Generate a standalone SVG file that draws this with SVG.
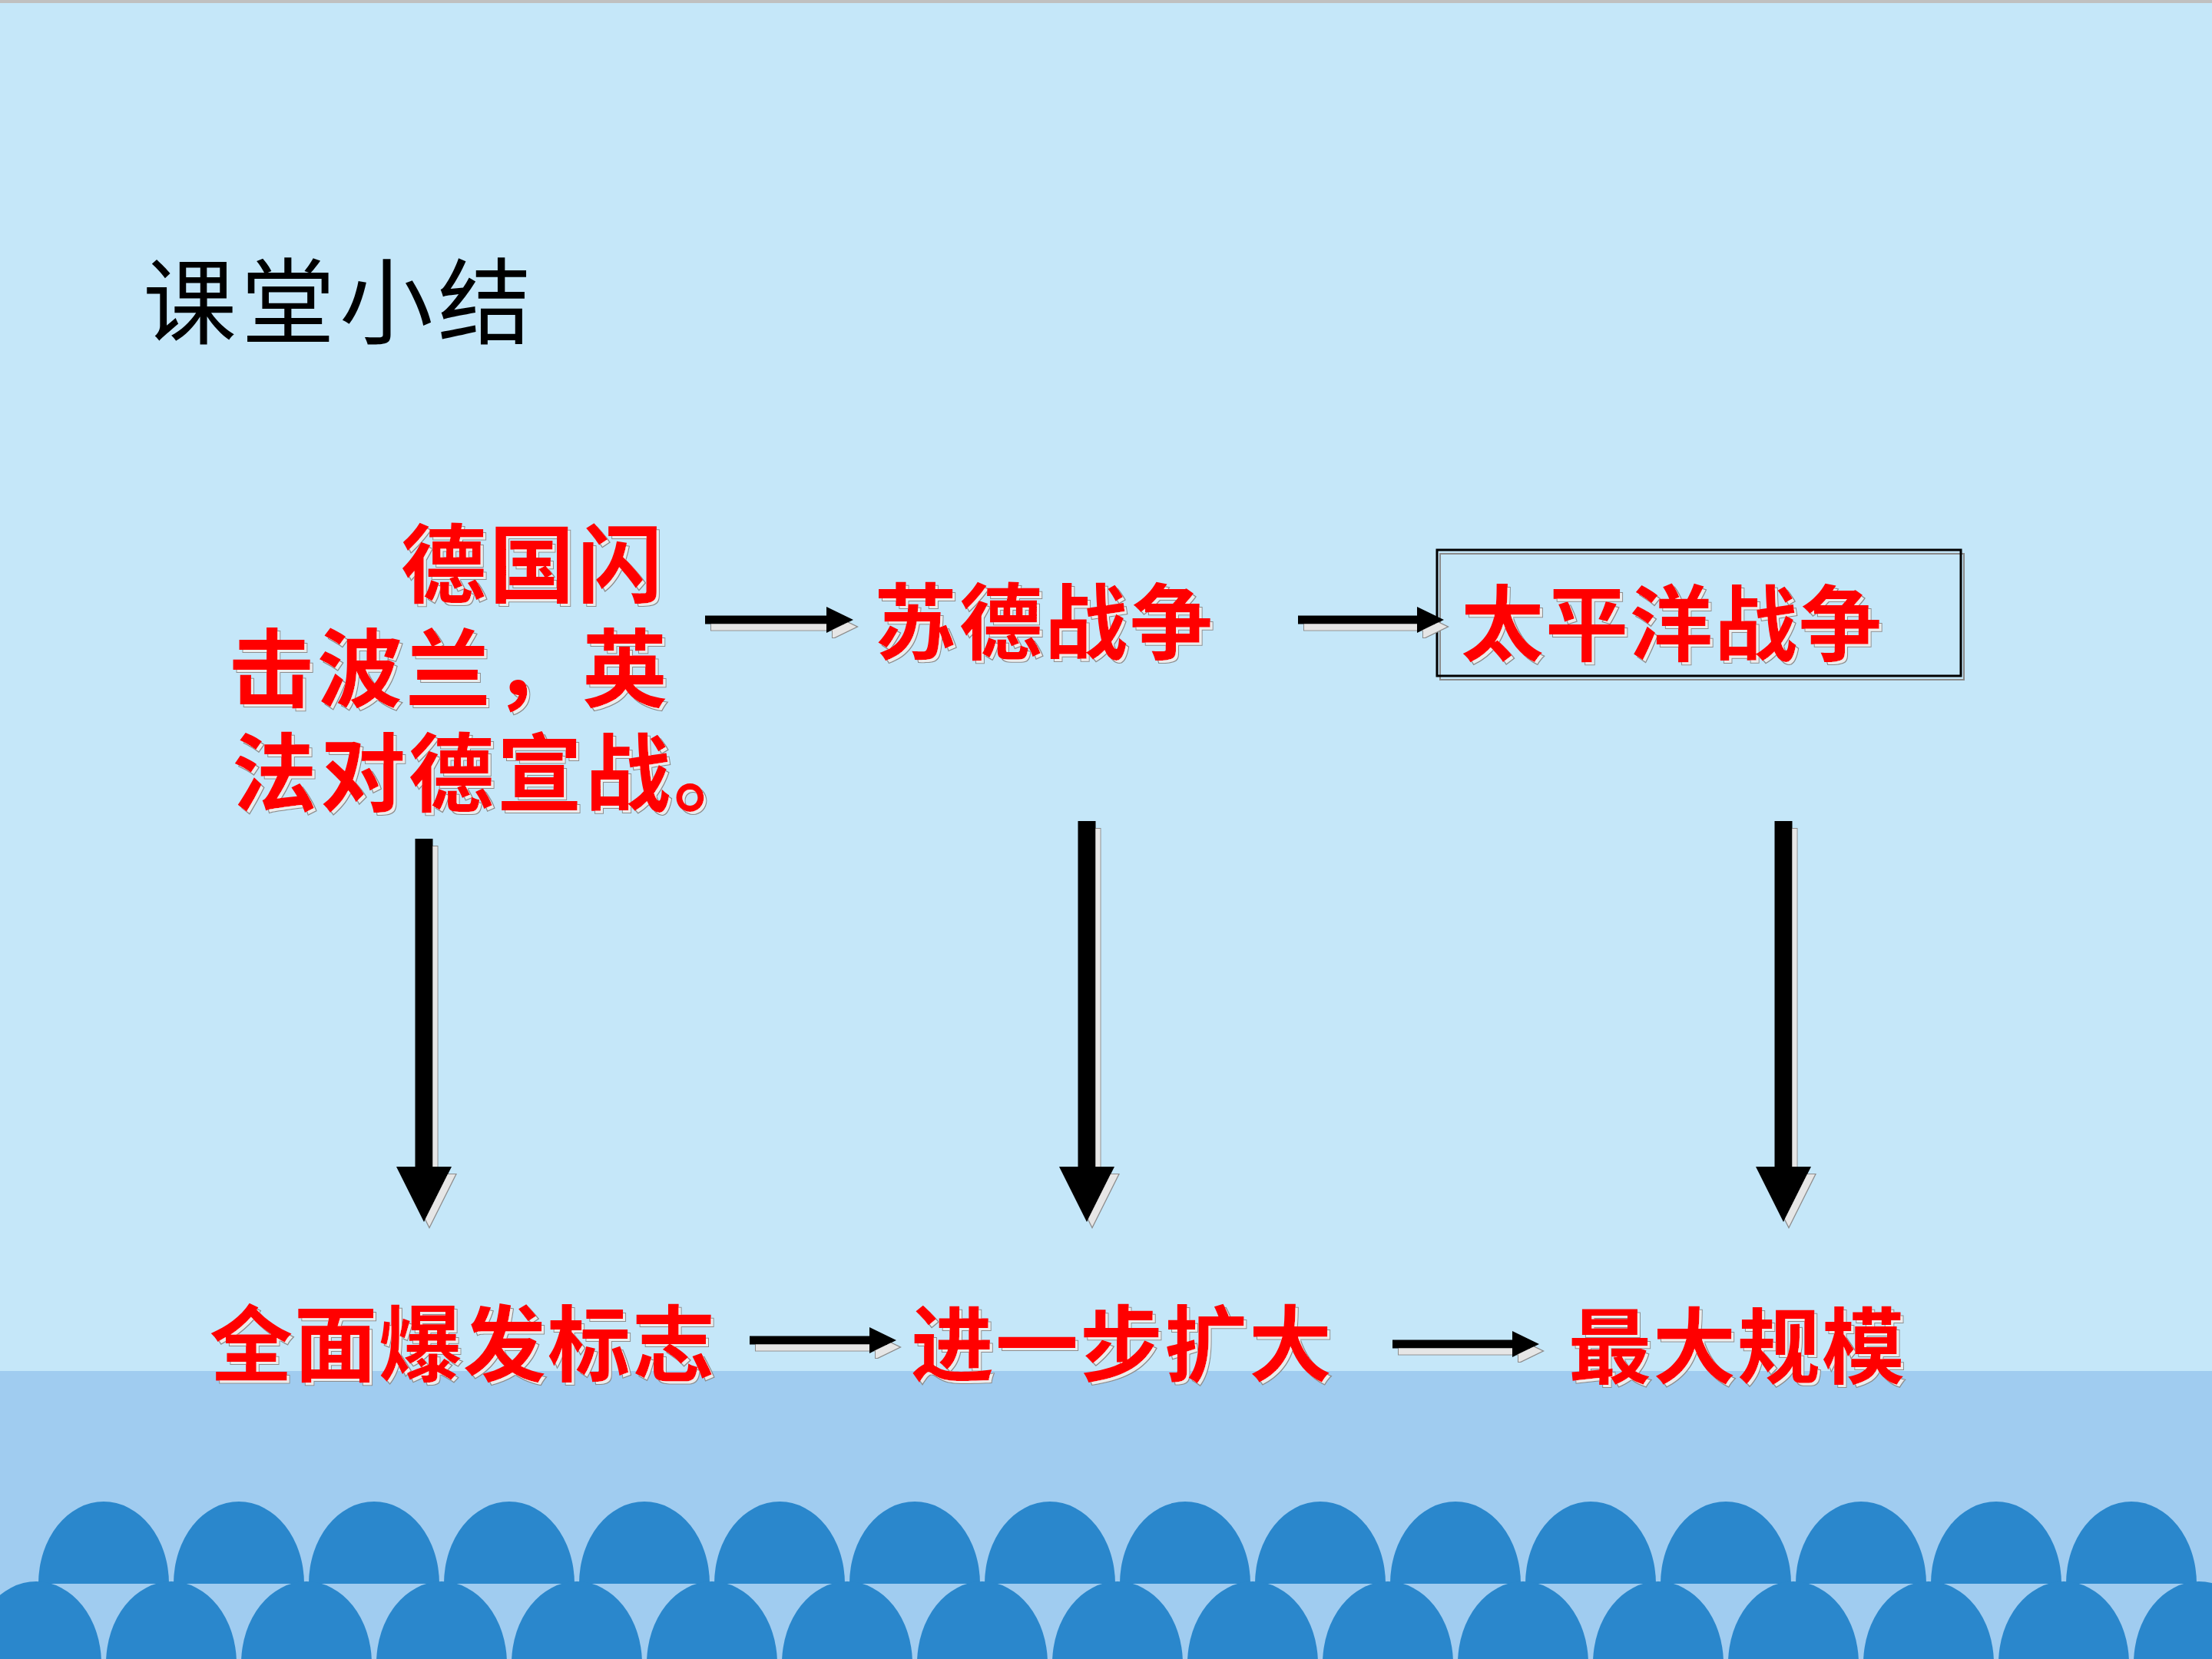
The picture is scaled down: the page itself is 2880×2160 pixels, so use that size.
<svg xmlns="http://www.w3.org/2000/svg" xmlns:xlink="http://www.w3.org/1999/xlink" width="2880" height="2160" viewBox="0 0 2880 2160">
<style>
.red{font-family:"Noto Sans CJK SC","Noto Sans CJK TC",sans-serif;font-weight:700;font-size:108px;fill:#FF0000;letter-spacing:2px;filter:url(#ts)}
.big{font-size:111px;letter-spacing:4px}
.title{font-family:"Noto Sans CJK SC","Noto Sans CJK TC",sans-serif;font-weight:400;font-size:122px;fill:#000000;letter-spacing:6px}
.arrow{fill:#000000;filter:url(#as)}
.dome{fill:#2A87CC}
</style>
<defs>
<filter id="ts" x="-5%" y="-10%" width="115%" height="130%">
<feOffset in="SourceAlpha" dx="4" dy="4" result="o"/>
<feFlood flood-color="#8c8c8c"/>
<feComposite in2="o" operator="in" result="dark"/>
<feMorphology in="o" operator="erode" radius="1.2" result="oe"/>
<feFlood flood-color="#ececec"/>
<feComposite in2="oe" operator="in" result="light"/>
<feMerge><feMergeNode in="dark"/><feMergeNode in="light"/><feMergeNode in="SourceGraphic"/></feMerge>
</filter>
<filter id="as" x="-20%" y="-20%" width="140%" height="140%">
<feOffset in="SourceAlpha" dx="7" dy="9" result="o"/>
<feFlood flood-color="#8c8c8c"/>
<feComposite in2="o" operator="in" result="dark"/>
<feMorphology in="o" operator="erode" radius="1.2" result="oe"/>
<feFlood flood-color="#e6e6e6"/>
<feComposite in2="oe" operator="in" result="light"/>
<feMerge><feMergeNode in="dark"/><feMergeNode in="light"/><feMergeNode in="SourceGraphic"/></feMerge>
</filter>
<path id="dome" d="M-85,0 A85,107 0 0 1 85,0 Z"/>
</defs>

<g id="background">
<rect x="0" y="0" width="2880" height="2160" fill="#C5E7F9"/>
<rect x="0" y="0" width="2880" height="4" fill="#C0C0C0"/>
<rect x="0" y="1785" width="2880" height="375" fill="#A0CCF0"/>
<g class="dome">
<use xlink:href="#dome" x="135" y="2062"/><use xlink:href="#dome" x="311" y="2062"/><use xlink:href="#dome" x="487" y="2062"/><use xlink:href="#dome" x="663" y="2062"/>
<use xlink:href="#dome" x="839" y="2062"/><use xlink:href="#dome" x="1015" y="2062"/><use xlink:href="#dome" x="1191" y="2062"/><use xlink:href="#dome" x="1367" y="2062"/>
<use xlink:href="#dome" x="1543" y="2062"/><use xlink:href="#dome" x="1719" y="2062"/><use xlink:href="#dome" x="1895" y="2062"/><use xlink:href="#dome" x="2071" y="2062"/>
<use xlink:href="#dome" x="2247" y="2062"/><use xlink:href="#dome" x="2423" y="2062"/><use xlink:href="#dome" x="2599" y="2062"/><use xlink:href="#dome" x="2775" y="2062"/>
<use xlink:href="#dome" x="47" y="2166"/><use xlink:href="#dome" x="223" y="2166"/><use xlink:href="#dome" x="399" y="2166"/><use xlink:href="#dome" x="575" y="2166"/>
<use xlink:href="#dome" x="751" y="2166"/><use xlink:href="#dome" x="927" y="2166"/><use xlink:href="#dome" x="1103" y="2166"/><use xlink:href="#dome" x="1279" y="2166"/>
<use xlink:href="#dome" x="1455" y="2166"/><use xlink:href="#dome" x="1631" y="2166"/><use xlink:href="#dome" x="1807" y="2166"/><use xlink:href="#dome" x="1983" y="2166"/>
<use xlink:href="#dome" x="2159" y="2166"/><use xlink:href="#dome" x="2335" y="2166"/><use xlink:href="#dome" x="2511" y="2166"/><use xlink:href="#dome" x="2687" y="2166"/>
<use xlink:href="#dome" x="2863" y="2166"/>
</g>
</g>

<g id="title">
<text class="title" x="186" y="438">课堂小结</text>
</g>

<g id="node-start">
<text class="red big"><tspan x="522" y="776">德国闪</tspan><tspan x="298" y="912">击波兰，英</tspan><tspan x="302" y="1048">法对德宣战。</tspan></text>
</g>

<g id="node-sude">
<text class="red" x="1138" y="850" style="letter-spacing:3px">苏德战争</text>
</g>

<g id="node-pacific">
<rect x="1875" y="721" width="682" height="164" fill="none" stroke="#8a8a8a" stroke-width="2"/>
<rect x="1871" y="716" width="682" height="164" fill="none" stroke="#000000" stroke-width="3"/>
<text class="red" x="1902" y="852">太平洋战争</text>
</g>

<g id="node-full">
<text class="red" x="273" y="1790">全面爆发标志</text>
</g>

<g id="node-expand">
<text class="red" x="1186" y="1790">进一步扩大</text>
</g>

<g id="node-max">
<text class="red" x="2042" y="1793">最大规模</text>
</g>

<g id="connectors">
<path class="arrow" d="M918,801.5 H1076 V790 L1111,807 L1076,824 V812.5 H918 Z"/>
<path class="arrow" d="M1690,801.5 H1845 V790 L1880,807 L1845,824 V812.5 H1690 Z"/>
<path class="arrow" d="M976,1739.5 H1132 V1728 L1167,1745 L1132,1762 V1750.5 H976 Z"/>
<path class="arrow" d="M1813,1744.5 H1969 V1733 L2004,1750 L1969,1767 V1755.5 H1813 Z"/>
<path class="arrow" d="M540.5,1092 H563.5 V1519 H588 L552,1591 L516,1519 H540.5 Z"/>
<path class="arrow" d="M1403.5,1069 H1426.5 V1519 H1451 L1415,1591 L1379,1519 H1403.5 Z"/>
<path class="arrow" d="M2310.5,1069 H2333.5 V1519 H2358 L2322,1591 L2286,1519 H2310.5 Z"/>
</g>
</svg>
